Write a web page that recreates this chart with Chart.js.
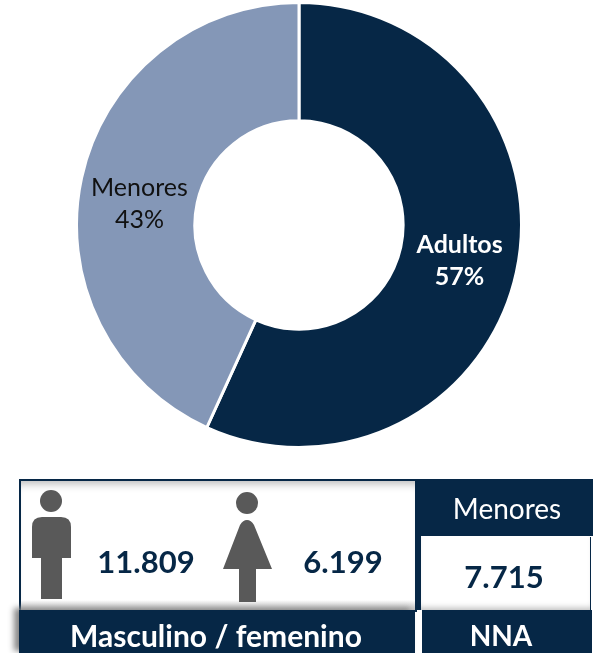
<!DOCTYPE html>
<html>
<head>
<meta charset="utf-8">
<script src="https://cdn.jsdelivr.net/npm/chart.js@4"></script>
<style>
    html, body { margin: 0; padding: 0; background: #fff; }
    body { width: 602px; height: 653px; position: relative; overflow: hidden; font-family: Lato, sans-serif; color: #062746; }
    #chartBox { position: absolute; left: 75px; top: 1px; width: 448px; height: 448px; }
    .box { position: absolute; box-sizing: border-box; }
    .txt { position: absolute; transform: translate(-50%, -50%); white-space: nowrap; }
    .num { font-weight: 700; font-size: 31px; }
    .dark { background: #062746; }
    .head { color: #fff; font-weight: 700; }
    svg { position: absolute; left: 0; top: 0; }
</style>
</head>
<body>
<div id="chartBox"><canvas id="donut"></canvas></div>

<div class="box" style="left:19px;top:479px;width:398px;height:133px;border:2px solid #062746;border-bottom:0;box-shadow:inset 0 9px 8px -6px #bbb;"></div>
<div class="box" style="left:21px;top:600px;width:394px;height:10px;background:linear-gradient(#fff,#bdbdbd);"></div>
<div class="box dark" style="left:415px;top:479px;width:178px;height:57px;"></div>
<div class="box dark" style="left:415px;top:536px;width:6px;height:74px;"></div>
<div class="box" style="left:421px;top:536px;width:169px;height:74px;box-shadow:1px 1px 0 #062746, inset 0 -6px 6px -4px #bbb;"></div>
<div class="box dark" id="barLeft" style="left:19px;top:610px;width:396px;height:43px;box-shadow:-5px -2px 6px #888;"></div>
<div class="box dark" id="barRight" style="left:422px;top:610px;width:170px;height:43px;"></div>

<svg width="602" height="653" id="icons">
    <g fill="#595959">
        <circle cx="51" cy="501" r="11"/>
        <path d="M32 558V527Q32 517 42 517H61Q71 517 71 527V558H62V599H41V558Z"/>
        <circle cx="247" cy="503" r="11"/>
        <path d="M239 569H223L240 525Q243 520 247 520Q251 520 254 525L272 569H256V602H239Z"/>
    </g>
</svg>

<div class="txt num" id="numMale" style="left:146px;top:561px;"></div>
<div class="txt num" id="numFemale" style="left:343px;top:561px;"></div>
<div class="txt num" id="numMinors" style="left:504px;top:576px;font-size:31px;"></div>
<div class="txt" id="lblMinors" style="left:507px;top:508px;color:#fff;font-size:28px;"></div>
<div class="txt head" id="lblLeft" style="left:216px;top:635px;font-size:30px;"></div>
<div class="txt head" id="lblRight" style="left:501px;top:635px;font-size:28px;"></div>

<script>
const categories = ['Adultos', 'Menores'];
const shares = [56.8, 43.2];
const sliceColors = ['#062746', '#8497B7'];
const labelColors = ['#ffffff', '#111111'];
const labelWeights = ['700', '400'];
const labelShiftX = [1, 0];
const labelShiftY = [1, 14];

const maleCount = '11.809';
const femaleCount = '6.199';
const minorCount = '7.715';
const minorTitle = 'Menores';
const genderCaption = 'Masculino / femenino';
const minorCaption = 'NNA';

document.getElementById('numMale').textContent = maleCount;
document.getElementById('numFemale').textContent = femaleCount;
document.getElementById('numMinors').textContent = minorCount;
document.getElementById('lblMinors').textContent = minorTitle;
document.getElementById('lblLeft').textContent = genderCaption;
document.getElementById('lblRight').textContent = minorCaption;

// slice labels, two lines centred on each arc
const sliceLabels = {
    id: 'sliceLabels',
    afterDatasetsDraw(chart) {
        const ctx = chart.ctx;
        const arcs = chart.getDatasetMeta(0).data;
        arcs.forEach(function (arc, i) {
            const pos = arc.tooltipPosition();
            const x = pos.x + labelShiftX[i];
            const y = pos.y + labelShiftY[i];
            ctx.save();
            ctx.fillStyle = labelColors[i];
            ctx.textAlign = 'center';
            ctx.textBaseline = 'middle';
            ctx.font = labelWeights[i] + ' 25px Lato, sans-serif';
            ctx.fillText(categories[i], x, y - 16);
            ctx.fillText(Math.round(shares[i]) + '%', x, y + 16);
            ctx.restore();
        });
    }
};

new Chart(document.getElementById('donut').getContext('2d'), {
    type: 'doughnut',
    data: {
        labels: categories,
        datasets: [{
            data: shares,
            backgroundColor: sliceColors,
            borderColor: '#ffffff',
            borderWidth: 3
        }]
    },
    options: {
        responsive: true,
        maintainAspectRatio: false,
        animation: false,
        cutout: '46.8%',
        layout: { padding: 0 },
        plugins: {
            legend: { display: false },
            tooltip: { enabled: false }
        }
    },
    plugins: [sliceLabels]
});
</script>
</body>
</html>
